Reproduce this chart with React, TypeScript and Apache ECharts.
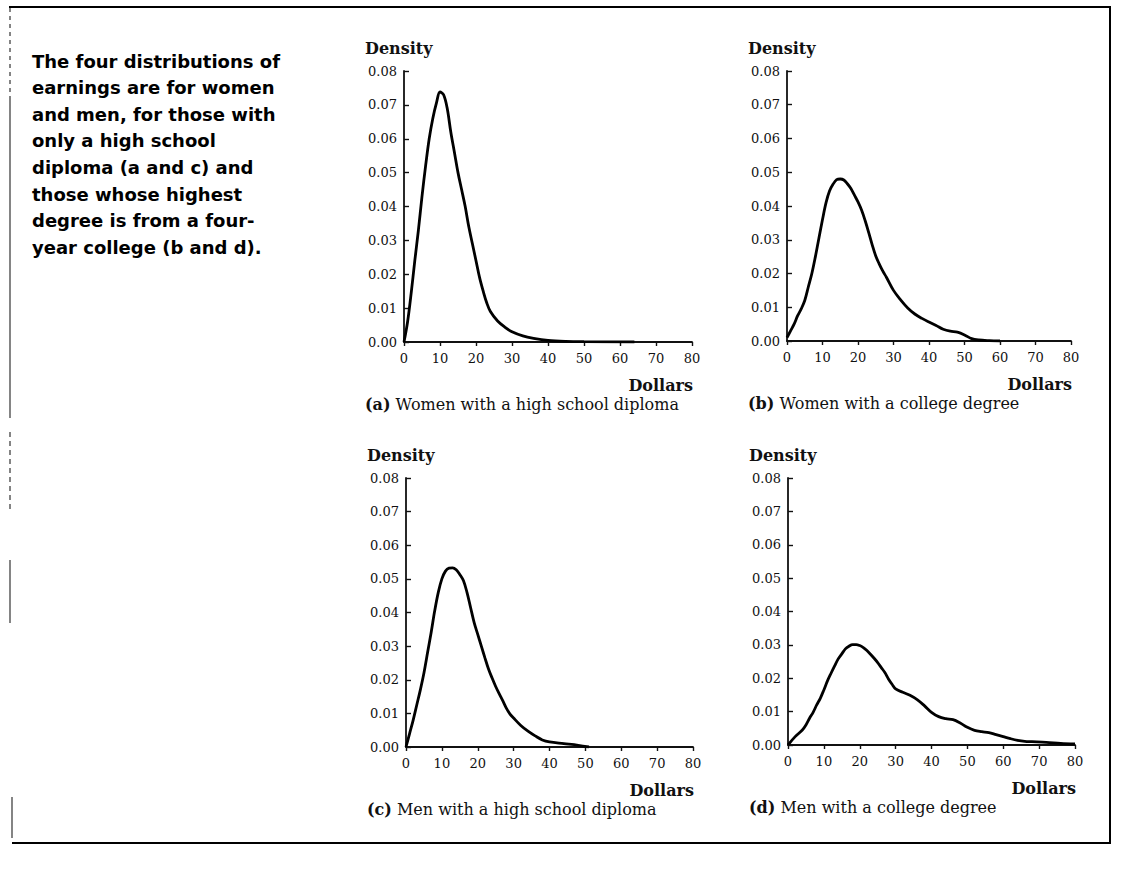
import React, { useEffect, useRef } from "react";
import * as echarts from "echarts";

// Density of hourly earnings (dollars) for four groups of workers
const womenHighSchool: [number, number][] = [
  [0, 0], [1, 0.006], [2, 0.0145], [3, 0.024], [4, 0.033], [5, 0.043], [6, 0.052],
  [7, 0.06], [8, 0.066], [9, 0.0705], [10, 0.0738], [11, 0.073], [12, 0.069],
  [13, 0.062], [14, 0.056], [15, 0.05], [16, 0.045], [17, 0.04], [18, 0.034],
  [19, 0.029], [20, 0.024], [21, 0.019], [22, 0.015], [23, 0.0115], [24, 0.009],
  [26, 0.0062], [28, 0.0044], [30, 0.003], [33, 0.0018], [36, 0.0011], [40, 0.0005],
  [45, 0.0002], [50, 0.0001], [64, 0],
];

const womenCollege: [number, number][] = [
  [0, 0.001], [1, 0.003], [2, 0.005], [3, 0.0075], [4, 0.0095], [5, 0.012], [6, 0.016],
  [7, 0.02], [8, 0.025], [9, 0.0305], [10, 0.036], [11, 0.041], [12, 0.0445],
  [13, 0.0465], [14, 0.0478], [15, 0.048], [16, 0.0477], [17, 0.0466], [18, 0.0452],
  [19, 0.0432], [20, 0.0412], [21, 0.0388], [22, 0.0357], [23, 0.0322], [24, 0.0285],
  [25, 0.0252], [26, 0.0228], [27, 0.0207], [28, 0.0189], [30, 0.015], [32, 0.0122],
  [34, 0.0098], [36, 0.008], [38, 0.0067], [40, 0.0056], [42, 0.0046], [44, 0.0035],
  [46, 0.0029], [48, 0.0026], [50, 0.0018], [52, 0.0007], [54, 0.0003], [57, 0.0001],
  [60, 0],
];

const menHighSchool: [number, number][] = [
  [0, 0], [1, 0.004], [2, 0.008], [3, 0.0125], [4, 0.017], [5, 0.022], [6, 0.028],
  [7, 0.034], [8, 0.0405], [9, 0.046], [10, 0.05], [11, 0.0523], [12, 0.0532],
  [13, 0.0533], [14, 0.0527], [15, 0.0513], [16, 0.0495], [17, 0.046], [18, 0.0415],
  [19, 0.037], [20, 0.0335], [21, 0.03], [22, 0.0265], [23, 0.0232], [24, 0.0205],
  [25, 0.018], [26, 0.0158], [27, 0.0137], [28, 0.0115], [29, 0.0098], [30, 0.0086],
  [32, 0.0064], [34, 0.0047], [36, 0.0033], [38, 0.0021], [40, 0.0015], [44, 0.001],
  [48, 0.0005], [51, 0],
];

const menCollege: [number, number][] = [
  [0, 0], [2, 0.0025], [4, 0.0045], [5, 0.006], [6, 0.008], [7, 0.0098], [8, 0.012],
  [9, 0.014], [10, 0.0165], [11, 0.0192], [12, 0.0215], [13, 0.0237], [14, 0.0258],
  [15, 0.0273], [16, 0.0288], [17, 0.0296], [18, 0.0301], [19, 0.0301], [20, 0.0298],
  [21, 0.0292], [22, 0.0283], [23, 0.0272], [24, 0.026], [25, 0.0247], [26, 0.0232],
  [27, 0.0217], [28, 0.0198], [29, 0.0182], [30, 0.0168], [32, 0.0158], [34, 0.0149],
  [36, 0.0136], [38, 0.0118], [40, 0.0098], [42, 0.0085], [44, 0.0079], [46, 0.0076],
  [48, 0.0066], [50, 0.0053], [52, 0.0044], [54, 0.004], [56, 0.0037], [58, 0.0031],
  [60, 0.0025], [62, 0.0019], [64, 0.0014], [66, 0.0011], [68, 0.001], [72, 0.0008],
  [76, 0.0005], [80, 0.0003],
];

const panelSeries = [womenHighSchool, womenCollege, menHighSchool, menCollege];
const panelLetters = ["(a)", "(b)", "(c)", "(d)"];
const panelCaptions = [
  "Women with a high school diploma",
  "Women with a college degree",
  "Men with a high school diploma",
  "Men with a college degree",
];
const yAxisTitle = "Density";
const xAxisTitle = "Dollars";
const sideNote = [
  "The four distributions of",
  "earnings are for women",
  "and men, for those with",
  "only a high school",
  "diploma (a and c) and",
  "those whose highest",
  "degree is from a four-",
  "year college (b and d).",
];

// plot-area boxes for the four panels
const grids = [
  { left: 404, top: 71, width: 288, height: 271 },
  { left: 787, top: 71, width: 284, height: 270 },
  { left: 406, top: 478, width: 287, height: 269 },
  { left: 788, top: 478, width: 287, height: 267 },
];

const SERIF = "'DejaVu Serif', 'Liberation Serif', serif";
const INK = "#111";

export default function App() {
  const ref = useRef<HTMLDivElement>(null);

  useEffect(() => {
    document.body.style.margin = "0";
    const chart = echarts.init(ref.current!, undefined, { renderer: "svg" });

    const xAxes = grids.map((_, i) => ({
      type: "value" as const,
      gridIndex: i,
      min: 0,
      max: 80,
      interval: 10,
      axisLine: { show: true, onZero: false, lineStyle: { color: INK, width: 1.8 } },
      axisTick: { show: true, length: 4, lineStyle: { color: INK, width: 1.4 } },
      axisLabel: { color: INK, fontFamily: SERIF, fontSize: 13, margin: 10 },
      splitLine: { show: false },
    }));

    const yAxes = grids.map((_, i) => ({
      type: "value" as const,
      gridIndex: i,
      min: 0,
      max: 0.08,
      interval: 0.01,
      axisLine: { show: true, onZero: false, lineStyle: { color: INK, width: 1.8 } },
      axisTick: { show: true, inside: true, length: 5, lineStyle: { color: INK, width: 1.4 } },
      axisLabel: {
        color: INK,
        fontFamily: SERIF,
        fontSize: 13,
        margin: 7,
        formatter: (v: number) => v.toFixed(2),
      },
      splitLine: { show: false },
    }));

    const series = panelSeries.map((data, i) => ({
      type: "line" as const,
      xAxisIndex: i,
      yAxisIndex: i,
      data,
      smooth: 0.35,
      showSymbol: false,
      lineStyle: { color: "#000", width: 2.8 },
    }));

    const texts: any[] = [];
    grids.forEach((g, i) => {
      texts.push({
        type: "text",
        x: g.left - 39,
        y: g.top - 23,
        style: {
          text: yAxisTitle,
          font: `bold 16px ${SERIF}`,
          fill: INK,
          textVerticalAlign: "middle",
        },
      });
      texts.push({
        type: "text",
        x: g.left + g.width + 1,
        y: g.top + g.height + 43,
        style: {
          text: xAxisTitle,
          font: `bold 16px ${SERIF}`,
          fill: INK,
          textAlign: "right",
          textVerticalAlign: "middle",
        },
      });
      texts.push({
        type: "text",
        x: g.left - 39,
        y: g.top + g.height + 62,
        style: {
          text: `{b|${panelLetters[i]}} ${panelCaptions[i]}`,
          rich: {
            b: { font: `bold 16px ${SERIF}`, fill: INK },
          },
          font: `16px ${SERIF}`,
          fill: INK,
          textVerticalAlign: "middle",
        },
      });
    });

    sideNote.forEach((line, i) => {
      texts.push({
        type: "text",
        x: 32,
        y: 61 + i * 26.6,
        style: {
          text: line,
          font: `bold 18px 'DejaVu Sans', 'Noto Sans', sans-serif`,
          fill: "#000",
          textVerticalAlign: "middle",
        },
      });
    });

    // frame round the figure
    const frame: any[] = [
      { type: "line", shape: { x1: 9, y1: 7, x2: 1111, y2: 7 }, style: { stroke: "#000", lineWidth: 2 } },
      { type: "line", shape: { x1: 1110, y1: 6, x2: 1110, y2: 843 }, style: { stroke: "#000", lineWidth: 2 } },
      { type: "line", shape: { x1: 12, y1: 843, x2: 1111, y2: 843 }, style: { stroke: "#000", lineWidth: 2 } },
      { type: "line", shape: { x1: 10, y1: 8, x2: 10, y2: 100 }, style: { stroke: "#333", lineWidth: 1.2, lineDash: [4, 4] } },
      { type: "line", shape: { x1: 10, y1: 100, x2: 10, y2: 418 }, style: { stroke: "#333", lineWidth: 1.2 } },
      { type: "line", shape: { x1: 10, y1: 432, x2: 10, y2: 512 }, style: { stroke: "#333", lineWidth: 1.2, lineDash: [5, 4] } },
      { type: "line", shape: { x1: 10, y1: 560, x2: 10, y2: 623 }, style: { stroke: "#333", lineWidth: 1.2 } },
      { type: "line", shape: { x1: 12, y1: 797, x2: 12, y2: 838 }, style: { stroke: "#333", lineWidth: 1.2 } },
    ];

    chart.setOption({
      animation: false,
      backgroundColor: "#fff",
      grid: grids.map((g) => ({ ...g, containLabel: false })),
      xAxis: xAxes,
      yAxis: yAxes,
      series,
      graphic: [...frame, ...texts],
    });

    return () => chart.dispose();
  }, []);

  return (
    <div
      ref={ref}
      style={{ position: "absolute", left: 0, top: 0, width: 1121, height: 885, background: "#fff" }}
    />
  );
}
